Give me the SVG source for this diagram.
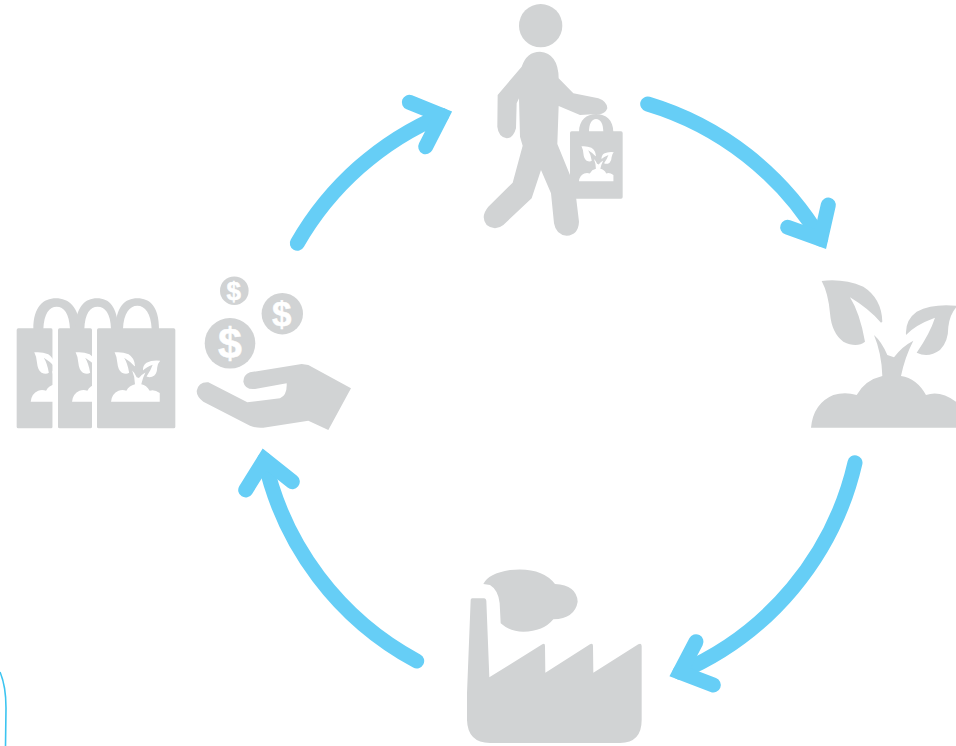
<svg xmlns="http://www.w3.org/2000/svg" xmlns:xlink="http://www.w3.org/1999/xlink" width="956" height="746" viewBox="0 0 956 746">
<style>
.g{fill:#d1d3d4}
.w{fill:#fff}
.a{fill:none;stroke:#66cef6;stroke-width:15;stroke-linecap:round;stroke-linejoin:miter}
.d{font-family:"Liberation Sans",Arial,sans-serif;font-weight:700;fill:#fff;stroke:#fff;stroke-width:.5;text-anchor:middle}
</style>
<defs>
<path id="plant" fill-rule="nonzero" d="M65 33Q130 25 190 50Q245 85 247 155L243 158Q205 115 150 82Q180 130 195 215Q170 235 130 215Q95 190 90 130Q85 70 65 33ZM472 108Q400 100 350 125Q315 150 318 195Q345 165 405 143Q390 190 350 248Q385 265 420 240Q445 215 445 170Q450 130 472 108ZM222 195Q245 215 262 255L282 262Q305 230 340 212Q315 260 303 318Q350 325 378 375Q420 360 468 395L468 473L33 473Q40 400 100 375Q135 365 170 375Q195 330 247 318Q245 250 222 195Z"/>
</defs>
<rect width="956" height="746" fill="#fff"/>
<g id="connectors">
<path class="a" d="M297.300 243.300A302 302 0 0 1 441.700 115.300"/>
<path class="a" d="M409.300 102.300L441.700 115.300L425.700 146.700"/>
<path class="a" d="M647.700 104A302 302 0 0 1 820.600 239"/>
<path class="a" d="M828.300 205L820.600 239L787.700 227.300"/>
<path class="a" d="M855 462.700A302 302 0 0 1 680 672.200"/>
<path class="a" d="M696 641.700L680 672.200L713.300 685"/>
<path class="a" d="M416.700 661A302 302 0 0 1 264.600 459.700"/>
<path class="a" d="M245.700 490L264.600 459.700L292.300 481.700"/>
</g>
<g id="node-shopper" transform="translate(470 0) scale(.33333)">
<circle class="g" cx="212" cy="77" r="65"/>
<path class="g" d="M83 285L155 200Q170 155 210 155Q265 160 266 235L310 280L385 295Q412 305 412 325Q405 345 380 342L330 345L266 318L262 432L300 525L318 590L327 665Q325 705 290 707Q258 705 252 670L243 580L213 510L185 595L100 675Q75 695 50 675Q30 650 55 620L128 548L158 437L150 410L147 295L140 310L138 385Q130 415 110 415Q85 410 82 380Z"/>
<rect class="g" x="300" y="394" width="158" height="202" rx="5"/>
<path class="g" fill-rule="evenodd" d="M327 396C327 360 350 342 378 342C408 342 430 360 430 396ZM357 396H400C400 372 392 357 378 357C365 357 357 372 357 396Z"/>
<use xlink:href="#plant" class="w" transform="translate(319 431) scale(.2377)"/>
</g>
<g id="node-plant" transform="translate(800 270) scale(.33333)">
<use xlink:href="#plant" class="g"/>
</g>
<g id="node-factory" transform="translate(455 560) scale(.33333)">
<path class="g" d="M85 72Q100 40 165 30Q260 20 300 72Q365 75 368 125Q360 175 295 178Q265 215 205 215Q165 215 137 190L134 130Q130 90 105 75Z"/>
<path class="g" d="M47 120Q47 115 52 115L88 115Q93 116 94 122L103 352L262 253Q270 248 270 258L271 338L405 253Q414 248 414 258L415 338L550 253Q559 248 560 258L560 480Q560 548 495 549L105 549Q38 548 36 480L36 400Z"/>
</g>
<g id="node-bags" transform="translate(0 265) scale(.33333)">
<path class="g" fill-rule="evenodd" d="M100 192C100 125 130 100 168 100C205 100 238 125 240 192ZM130 192H210C208 145 192 125 170 125C148 125 132 145 130 192Z"/>
<path class="g" fill-rule="evenodd" d="M225 192C228 125 255 100 291 100C328 100 352 125 355 192ZM253 192H333C332 145 315 125 293 125C270 125 255 145 253 192Z"/>
<path class="g" fill-rule="evenodd" d="M347 192C347 125 375 100 412 100C450 100 477 125 477 192ZM369 192H455C453 145 435 122 412 122C389 122 371 145 369 192Z"/>
<rect class="g" x="50" y="190" width="108" height="300" rx="5"/>
<use xlink:href="#plant" class="w" transform="translate(81 251) scale(.336)"/>
<rect class="w" x="158" y="190" width="16" height="300"/>
<rect class="g" x="174" y="190" width="102" height="300" rx="5"/>
<use xlink:href="#plant" class="w" transform="translate(205 251) scale(.336)"/>
<rect class="w" x="276" y="190" width="15" height="300"/>
<rect class="g" x="291" y="190" width="235" height="300" rx="5"/>
<use xlink:href="#plant" class="w" transform="translate(322 251) scale(.336)"/>
</g>
<g id="node-payment">
<circle class="g" cx="234.300" cy="290.700" r="14.300"/>
<text class="d" x="233.700" y="300" font-size="26">$</text>
<circle class="g" cx="282.300" cy="313.700" r="20.700"/>
<text class="d" x="281.700" y="326" font-size="35">$</text>
<circle class="g" cx="230" cy="343.300" r="25.300"/>
<text class="d" x="230" y="357.500" font-size="43">$</text>
<path class="g" transform="translate(0 265) scale(.33333)" d="M590 378Q595 350 625 352L742 412L840 400Q862 390 860 355L765 372Q735 375 730 350Q730 330 750 322L905 297L925 300L1053 370L985 495L925 467L790 488Q770 490 750 482L610 410Q590 395 590 378Z"/>
</g>
<path d="M0 672Q6 686 6 708L5.500 746" fill="none" stroke="#3cc4f0" stroke-width="1.600"/>
</svg>
